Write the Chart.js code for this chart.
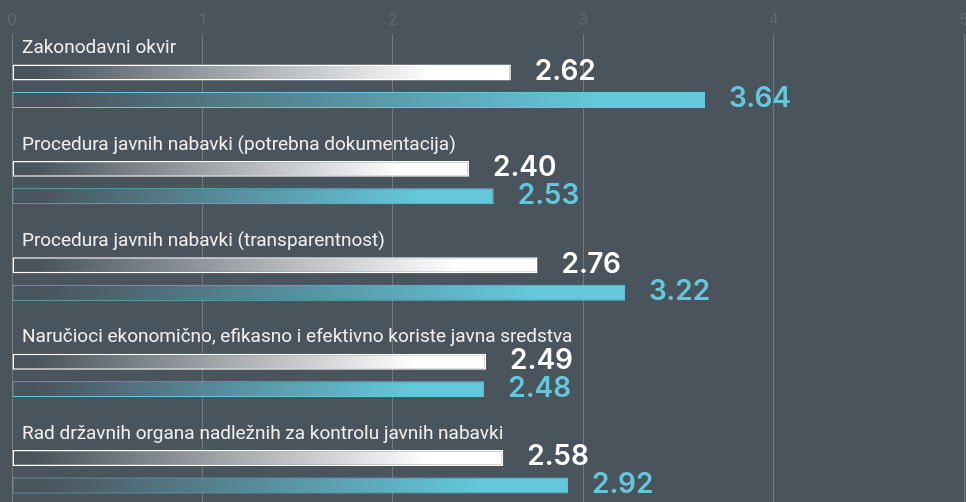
<!DOCTYPE html>
<html>
<head>
<meta charset="utf-8">
<script src="https://cdn.jsdelivr.net/npm/chart.js@4.4.1/dist/chart.umd.min.js"></script>
<style>
  html, body { margin: 0; padding: 0; background: #4a545c; overflow: hidden; }
  #wrap { width: 980px; height: 540px; }
</style>
</head>
<body>
<div id="wrap"><canvas id="bars"></canvas></div>
<script>
const categories = [
  'Zakonodavni okvir',
  'Procedura javnih nabavki (potrebna dokumentacija)',
  'Procedura javnih nabavki (transparentnost)',
  'Naručioci ekonomično, efikasno i efektivno koriste javna sredstva',
  'Rad državnih organa nadležnih za kontrolu javnih nabavki'
];
const whiteValues = [2.62, 2.40, 2.76, 2.49, 2.58];
const cyanValues = [3.64, 2.53, 3.22, 2.48, 2.92];
const xTicks = [0, 1, 2, 3, 4, 5];

const BG = '#4a545c';
const WHITE = '#ffffff';
const CYAN = '#64c8dc';

// per bar gradient, dark at the base and full colour near the end
function barFill(color) {
  return (c) => {
    const chart = c.chart;
    const x = chart.scales.x;
    if (!chart.chartArea || !x || c.type !== 'data' || !c.parsed) return color;
    const x0 = x.getPixelForValue(0);
    const x1 = x.getPixelForValue(c.parsed.x);
    const g = chart.ctx.createLinearGradient(x0, 0, x1, 0);
    g.addColorStop(0, BG);
    g.addColorStop(0.05, BG);
    g.addColorStop(0.85, color);
    g.addColorStop(1, color);
    return g;
  };
}

const textPlugin = {
  id: 'textPlugin',
  afterDatasetsDraw(chart) {
    const { ctx, scales: { x, y } } = chart;
    ctx.save();
    ctx.font = '400 19px Roboto';
    ctx.fillStyle = '#eef0f1';
    ctx.textBaseline = 'alphabetic';
    ctx.textAlign = 'left';
    categories.forEach((name, i) => {
      ctx.fillText(name, x.getPixelForValue(0) + 10, y.getPixelForValue(i) - 33);
    });

    ctx.font = '600 28px Inter';
    ctx.textBaseline = 'middle';
    chart.data.datasets.forEach((ds, di) => {
      const meta = chart.getDatasetMeta(di);
      ctx.fillStyle = ds.borderColor;
      meta.data.forEach((bar, i) => {
        ctx.fillText(ds.data[i].toFixed(2), bar.x + 24, bar.y - 1);
      });
    });
    ctx.restore();
  }
};

new Chart(document.getElementById('bars'), {
  type: 'bar',
  data: {
    labels: categories,
    datasets: [
      {
        data: whiteValues,
        backgroundColor: barFill(WHITE),
        borderColor: WHITE,
        borderWidth: 1.5,
        borderSkipped: false
      },
      {
        data: cyanValues,
        backgroundColor: barFill(CYAN),
        borderColor: CYAN,
        borderWidth: 1,
        borderSkipped: false
      }
    ]
  },
  options: {
    indexAxis: 'y',
    responsive: true,
    maintainAspectRatio: false,
    animation: false,
    categoryPercentage: 0.57,
    barPercentage: 0.58,
    layout: { padding: { left: 12, right: 16, top: 0, bottom: 20 } },
    plugins: { legend: { display: false }, tooltip: { enabled: false } },
    scales: {
      x: {
        position: 'top',
        min: xTicks[0],
        max: xTicks[xTicks.length - 1],
        ticks: {
          stepSize: 1,
          padding: 4,
          color: '#5d6870',
          font: { family: 'Inter', size: 16 }
        },
        grid: {
          color: 'rgba(255,255,255,0.22)',
          tickColor: 'rgba(255,255,255,0.22)',
          tickLength: 4,
          lineWidth: 1
        },
        border: { display: false },
        afterFit(scale) { scale.height = 38; }
      },
      y: {
        display: false
      }
    }
  },
  plugins: [textPlugin]
});
</script>
</body>
</html>
